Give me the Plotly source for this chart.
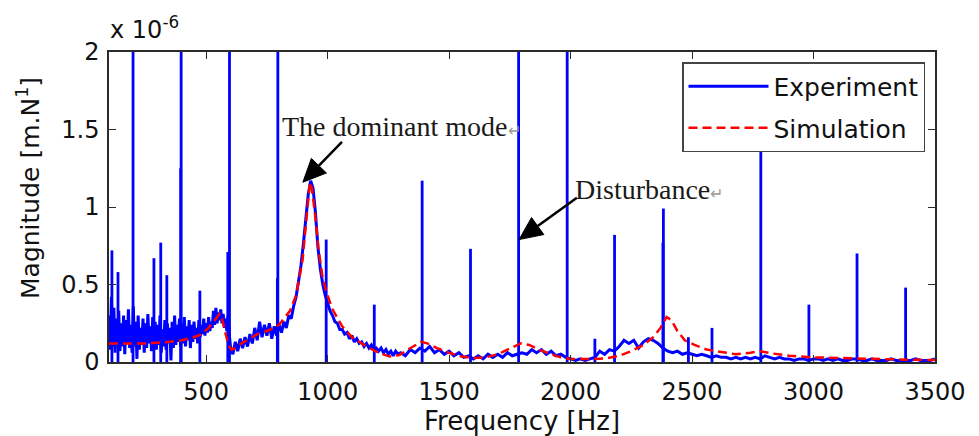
import math

import plotly.graph_objects as go

# Experiment: broadband response (values in 1e-6 m/N)
EXP_LOW_FREQ = list(range(100, 600, 5))
EXP_LOW_MAG = [
    0.30, 0.08, 0.42, 0.10, 0.35, 0.06, 0.28, 0.12, 0.33, 0.07,
    0.25, 0.10, 0.30, 0.05, 0.27, 0.12, 0.34, 0.09, 0.24, 0.06,
    0.36, 0.10, 0.26, 0.02, 0.30, 0.08, 0.22, 0.11, 0.28, 0.06,
    0.25, 0.09, 0.31, 0.12, 0.23, 0.07, 0.29, 0.10, 0.26, 0.08,
    0.24, 0.11, 0.30, 0.06, 0.21, 0.10, 0.27, 0.08, 0.25, 0.12,
    0.22, 0.01, 0.26, 0.09, 0.30, 0.11, 0.24, 0.13, 0.28, 0.10,
    0.25, 0.12, 0.29, 0.10, 0.23, 0.14, 0.27, 0.09, 0.24, 0.13,
    0.26, 0.15, 0.22, 0.12, 0.27, 0.16, 0.24, 0.18, 0.28, 0.17,
    0.25, 0.19, 0.29, 0.20, 0.26, 0.22, 0.33, 0.24, 0.35, 0.25,
    0.32, 0.27, 0.34, 0.25, 0.31, 0.22, 0.28, 0.20, 0.30, 0.18,
]
EXP_MID_FREQ = list(range(600, 1300, 10))
EXP_MID_MAG = [
    0.10, 0.05, 0.13, 0.07, 0.15, 0.09, 0.16, 0.10, 0.18, 0.12,
    0.22, 0.14, 0.26, 0.16, 0.24, 0.17, 0.25, 0.15, 0.23, 0.17,
    0.24, 0.19, 0.26, 0.22, 0.30, 0.28, 0.36, 0.42, 0.52, 0.62,
    0.76, 0.92, 1.08, 1.17, 1.12, 0.96, 0.74, 0.60, 0.50, 0.43,
    0.38, 0.33, 0.30, 0.26, 0.25, 0.21, 0.21, 0.18, 0.19, 0.15,
    0.17, 0.13, 0.15, 0.12, 0.13, 0.10, 0.12, 0.09, 0.11, 0.08,
    0.09, 0.07, 0.09, 0.06, 0.08, 0.05, 0.07, 0.04, 0.07, 0.05,
]
EXP_HIGH_FREQ = list(range(1300, 3501, 20))
EXP_HIGH_MAG = [
    0.06, 0.04, 0.08, 0.06, 0.09, 0.07, 0.10, 0.06, 0.08, 0.05,
    0.07, 0.04, 0.06, 0.03, 0.04, 0.02, 0.04, 0.02, 0.05, 0.03,
    0.05, 0.03, 0.06, 0.04, 0.05, 0.06, 0.05, 0.08, 0.06, 0.08,
    0.05, 0.07, 0.04, 0.05, 0.03, 0.02, 0.01, 0.02, 0.01, 0.02,
    0.03, 0.07, 0.05, 0.08, 0.07, 0.10, 0.14, 0.12, 0.14, 0.09,
    0.13, 0.15, 0.14, 0.12, 0.09, 0.07, 0.06, 0.07, 0.05, 0.06,
    0.05, 0.04, 0.05, 0.04, 0.03, 0.04, 0.03, 0.03, 0.02, 0.03,
    0.02, 0.03, 0.02, 0.03, 0.02, 0.04, 0.03, 0.02, 0.03, 0.02,
    0.02, 0.01, 0.02, 0.02, 0.01, 0.02, 0.02, 0.01, 0.02, 0.01,
    0.02, 0.01, 0.01, 0.02, 0.02, 0.01, 0.01, 0.02, 0.01, 0.01,
    0.01, 0.02, 0.01, 0.01, 0.01, 0.01, 0.02, 0.01, 0.01, 0.01, 0.02,
]

# Experiment: narrow harmonic spikes (frequency, peak)
SPIKE_FREQ = [112, 137, 199, 285, 313, 338, 395, 397, 474, 589, 596, 793, 795,
              994, 1192, 1389, 1588, 1786, 1986, 2100, 2181, 2380, 2382, 2485,
              2582, 2783, 2981, 3179, 3379]
SPIKE_PEAK = [0.72, 0.58, 2.6, 0.67, 0.77, 0.56, 1.25, 2.6, 0.46, 0.71, 2.6, 0.54, 2.6,
              0.79, 0.37, 1.17, 0.73, 2.6, 2.6, 0.15, 0.82, 0.77, 0.99, 0.16,
              0.22, 1.39, 0.37, 0.70, 0.48]

# Simulation
SIM_FREQ = [100, 150, 200, 250, 300, 350, 400, 450, 480, 510, 530, 545, 555, 565, 575,
            585, 595, 605, 620, 645, 680, 710, 750, 780, 800, 820, 845, 870, 885, 897,
            905, 913, 920, 927, 935, 942, 950, 962, 978, 995, 1020, 1060, 1100, 1160,
            1210, 1255, 1295, 1330, 1360, 1385, 1410, 1450, 1500, 1550, 1600, 1650,
            1700, 1740, 1770, 1795, 1830, 1870, 1920, 1960, 2000, 2050, 2100, 2150,
            2200, 2250, 2300, 2340, 2370, 2395, 2415, 2440, 2470, 2510, 2560, 2620,
            2680, 2740, 2780, 2830, 2900, 3000, 3100, 3200, 3300, 3400, 3500]
SIM_MAG = [0.12, 0.12, 0.12, 0.12, 0.125, 0.13, 0.14, 0.16, 0.18, 0.22, 0.26, 0.29, 0.31, 0.28, 0.21,
           0.15, 0.10, 0.08, 0.09, 0.12, 0.15, 0.18, 0.20, 0.22, 0.24, 0.28, 0.33, 0.43, 0.55, 0.66,
           0.80, 0.94, 1.08, 1.16, 1.12, 1.04, 0.93, 0.73, 0.56, 0.45, 0.34, 0.23, 0.16, 0.10,
           0.06, 0.035, 0.045, 0.08, 0.11, 0.13, 0.12, 0.09, 0.06, 0.035, 0.025, 0.03,
           0.05, 0.08, 0.10, 0.12, 0.11, 0.08, 0.05, 0.03, 0.02, 0.02, 0.02, 0.025,
           0.04, 0.07, 0.11, 0.16, 0.22, 0.29, 0.27, 0.20, 0.14, 0.11, 0.08, 0.065,
           0.05, 0.06, 0.07, 0.055, 0.04, 0.03, 0.025, 0.02, 0.018, 0.015, 0.013]

X_TICKS = [500, 1000, 1500, 2000, 2500, 3000, 3500]
Y_TICKS = [0, 0.5, 1, 1.5, 2]
Y_TICK_TEXT = ["0", "0.5", "1", "1.5", "2"]
X_RANGE = [100, 3500]
Y_RANGE = [0, 2]

# callout arrows: (tail, head) in data units
ARROWS = [((1059, 1.42), (898, 1.16)), ((2026, 1.06), (1788, 0.79))]

W, H = 979, 436
L, R, T, B = 109, 44, 52, 74
PW, PH = W - L - R, H - T - B
AXIS_COLOR = "#2b2b2b"
SANS = "DejaVu Sans"


def px_x(px):
    return (px - L) / PW


def px_y(py):
    return (H - B - py) / PH


def data_px(f, m):
    x = L + (f - X_RANGE[0]) / (X_RANGE[1] - X_RANGE[0]) * PW
    y = T + PH - (m - Y_RANGE[0]) / (Y_RANGE[1] - Y_RANGE[0]) * PH
    return x, y


def arrow_shapes(tail, head, head_len=23, half_width=10.5):
    tx, ty = data_px(*tail)
    hx, hy = data_px(*head)
    length = math.hypot(hx - tx, hy - ty)
    dx, dy = (hx - tx) / length, (hy - ty) / length
    bx, by = hx - dx * head_len, hy - dy * head_len
    nx, ny = -dy * half_width, dx * half_width
    line = dict(type="line", xref="paper", yref="paper",
                x0=px_x(tx), y0=px_y(ty), x1=px_x(bx), y1=px_y(by),
                line={"color": "black", "width": 2.5})
    pts = [(hx, hy), (bx + nx, by + ny), (bx - nx, by - ny)]
    path = "M " + " L ".join(f"{px_x(x):.5f} {px_y(y):.5f}" for x, y in pts) + " Z"
    tri = dict(type="path", xref="paper", yref="paper", path=path,
               fillcolor="black", line={"color": "black", "width": 1})
    return [line, tri]


exp_freq = EXP_LOW_FREQ + EXP_MID_FREQ + EXP_HIGH_FREQ
exp_mag = EXP_LOW_MAG + EXP_MID_MAG + EXP_HIGH_MAG

spike_x, spike_y = [], []
for f, peak in zip(SPIKE_FREQ, SPIKE_PEAK):
    spike_x += [f, f, None]
    spike_y += [0, peak, None]

fig = go.Figure()
fig.add_trace(go.Scatter(x=exp_freq, y=exp_mag, mode="lines", name="Experiment",
                         legendgroup="exp",
                         line={"color": "#0000ff", "width": 3, "simplify": False}))
fig.add_trace(go.Scatter(x=spike_x, y=spike_y, mode="lines", showlegend=False,
                         legendgroup="exp",
                         line={"color": "#0000ff", "width": 2.8, "simplify": False}))
fig.add_trace(go.Scatter(x=SIM_FREQ, y=SIM_MAG, mode="lines", name="Simulation",
                         legendgroup="sim",
                         line={"color": "#ff0000", "width": 2.5, "dash": "9px,5px"}))

axis_style = dict(showline=True, linecolor=AXIS_COLOR, linewidth=1.5, mirror="ticks",
                  ticks="inside", ticklen=7, tickwidth=1.2, tickcolor=AXIS_COLOR,
                  showgrid=False, zeroline=False,
                  tickfont={"family": SANS, "size": 24, "color": "#111"})
fig.update_xaxes(range=X_RANGE, tickvals=X_TICKS, ticklabelstandoff=7, **axis_style)
fig.update_yaxes(range=Y_RANGE, tickvals=Y_TICKS, ticktext=Y_TICK_TEXT,
                 ticklabelstandoff=3, **axis_style)

fig.add_annotation(text="Frequency [Hz]", xref="paper", yref="paper", x=0.5, y=px_y(421),
                   showarrow=False, xanchor="center", yanchor="middle",
                   font={"family": SANS, "size": 26, "color": "#111"})
fig.add_annotation(text="Magnitude [m.N<sup>1</sup>]", xref="paper", yref="paper",
                   x=px_x(28), y=px_y(188), textangle=-90, showarrow=False,
                   xanchor="center", yanchor="middle",
                   font={"family": SANS, "size": 25, "color": "#111"})
fig.add_annotation(text="x 10<sup>-6</sup>", xref="paper", yref="paper", x=px_x(108), y=px_y(28),
                   showarrow=False, xanchor="left", yanchor="middle",
                   font={"family": SANS, "size": 24, "color": "#111"})

label_font = {"family": "Liberation Serif", "size": 28, "color": "#1a1a1a"}
mark = '<span style="color:#9a9a9a;font-size:16px">↵</span>'
fig.add_annotation(text="The dominant mode" + mark, xref="paper", yref="paper",
                   x=px_x(280), y=px_y(126), showarrow=False, xanchor="left", yanchor="middle",
                   font=label_font)
fig.add_annotation(text="Disturbance" + mark, xref="paper", yref="paper",
                   x=px_x(573), y=px_y(189), showarrow=False, xanchor="left", yanchor="middle",
                   font=label_font)

shapes = []
for tail, head in ARROWS:
    shapes += arrow_shapes(tail, head)

fig.update_layout(
    width=W, height=H,
    margin={"l": L, "r": R, "t": T, "b": B, "autoexpand": False},
    paper_bgcolor="white", plot_bgcolor="white",
    showlegend=True,
    shapes=shapes,
    legend={"x": px_x(925), "y": px_y(62), "xanchor": "right", "yanchor": "top",
            "bgcolor": "white", "bordercolor": "#444", "borderwidth": 1.5,
            "font": {"family": SANS, "size": 25, "color": "#111"},
            "tracegroupgap": 6, "itemwidth": 80},
)

fig.write_html("out.html", config={"displayModeBar": False},
               post_script="document.body.style.margin = '0px';")
